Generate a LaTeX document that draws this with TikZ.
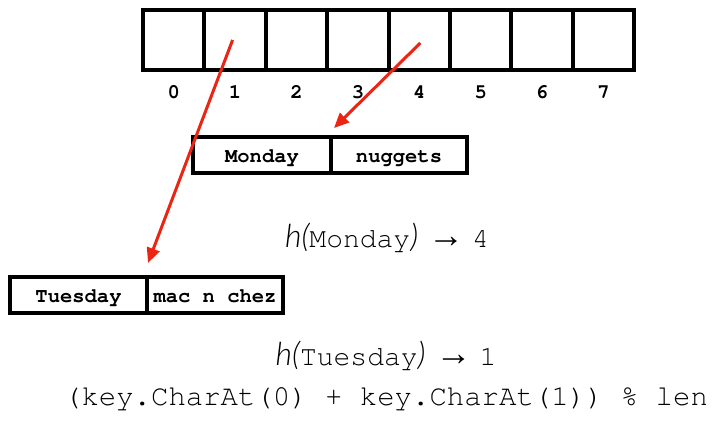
\documentclass[tikz,border=0pt]{standalone}
\usepackage[T1]{fontenc}
\usepackage{fontspec}
\usetikzlibrary{arrows.meta,calc}
\newfontfamily\hsans{Lato Light}[ItalicFont={Lato Light Italic}]
\newfontfamily\arrowfont{Liberation Sans}
\newcommand{\cmono}{\fontencoding{T1}\fontfamily{pcr}\selectfont}
\definecolor{ptrred}{RGB}{236,36,20}
\tikzset{
  cell/.style={draw, line width=4pt, minimum width=61.4pt, minimum height=60pt, inner sep=0pt},
  idx/.style={font=\cmono\bfseries\fontsize{20.5}{20.5}\selectfont, inner sep=0pt, anchor=base},
  entry/.style={draw, line width=4pt, minimum height=36pt, inner sep=0pt,
    font=\cmono\bfseries\fontsize{20.5}{20.5}\selectfont, text height=14pt, text depth=0pt},
  eqn/.style={inner sep=0pt, anchor=base, font=\cmono\fontsize{28}{28}\selectfont},
  ptr/.style={draw=ptrred, line width=3pt, -{Triangle[length=15pt,width=13pt]}, ptrred},
}
\newcommand{\hpart}[1]{{\hsans\fontsize{32}{32}\fontseries{m}\selectfont\itshape #1}}
\newcommand{\maps}{\hspace{10pt}{\arrowfont\fontsize{36}{36}\fontseries{m}\selectfont →}\hspace{8pt}}
\begin{document}
\begin{tikzpicture}[x=1pt,y=-1pt]
  \useasboundingbox (0,0) rectangle (715,421);
  \fill[white] (0,0) rectangle (715,421);

  % the eight buckets of the table and their indices
  \foreach \i in {0,...,7} {
    \node[cell] (c\i) at ({143+61.4*(\i+0.5)},40) {};
    \node[idx] (l\i) at ({143+61.4*(\i+0.5)},98) {\i};
  }

  % key/value entries
  \node[entry, minimum width=138pt] (mk) at (262,155) {Monday};
  \node[entry, minimum width=136pt] (mv) at (399,155) {nuggets};
  \node[entry, minimum width=137pt, text height=15pt] (tk) at (78.5,295) {Tuesday};
  \node[entry, minimum width=136pt, text height=15pt] (tv) at (215,295) {mac n chez};

  % pointers from buckets to entries
  \coordinate (e1) at (148,263);
  \coordinate (e2) at (334,128);
  \coordinate (s1) at ($(c1.center)+(-2.5,0)$);
  \coordinate (s4) at ($(c4.center)+(1,3)$);
  \draw[ptr] (s1) -- (e1);
  \draw[ptr] (s4) -- (e2);

  % hash results
  \node[eqn] (hm) at (387,247) {\hpart{h(}Monday\hpart{)}\maps4};
  \node[eqn] (ht) at (386,365) {\hpart{h(}Tuesday\hpart{)}\maps1};
  \node[eqn, font=\cmono\fontsize{29}{29}\selectfont] (fn) at (386,405) {(key.CharAt(0) + key.CharAt(1)) \% len};
\end{tikzpicture}
\end{document}
